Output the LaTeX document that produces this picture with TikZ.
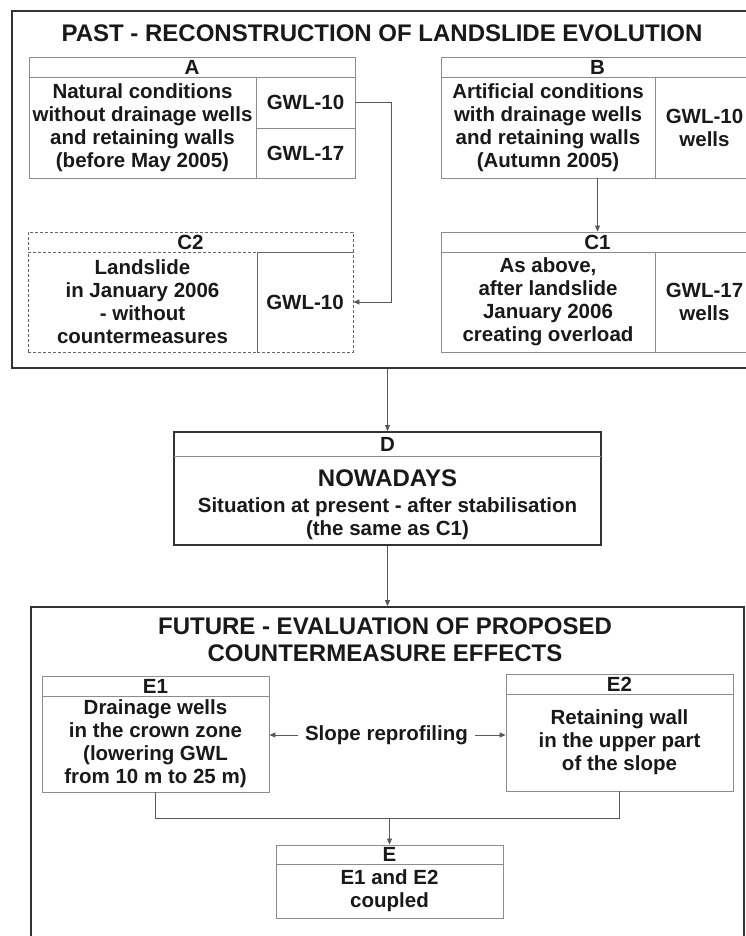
\documentclass[tikz,border=0pt]{standalone}
\usepackage{fontspec}
\setmainfont{Liberation Sans}
\usetikzlibrary{arrows.meta}
\newcommand\cellbox[7]{%
  \node[#1, minimum width={(#5)-(#3)}, minimum height={(#6)-(#4)}] (#2) at ({((#3)+(#5))/2},{((#4)+(#6))/2}) {#7};}
\begin{document}
\begin{tikzpicture}[x=1pt,y=-1pt,
  body/.style={font=\fontsize{20.5}{23}\selectfont\bfseries, text=black!90, align=center},
  ttl/.style={font=\fontsize{24}{27}\selectfont\bfseries, text=black!90, align=center, inner sep=0pt},
  cell/.style={body, draw=black!45, line width=0.9pt, inner sep=0pt, anchor=center},
  dcell/.style={cell, draw=black!60, dash pattern=on 3pt off 2pt},
  outerbox/.style={draw=black!80, line width=1.8pt, inner sep=0pt, anchor=center},
  plain/.style={body, inner sep=0pt, anchor=center},
  conn/.style={draw=black!65, line width=0.8pt},
  arr/.style={conn, -{Triangle[length=6pt,width=5pt]}}
]
\useasboundingbox (0,0) rectangle (746,936);
\fill[white] (0,0) rectangle (746,936);
\clip (0,0) rectangle (746,936);

% ---------- PAST ----------
\cellbox{outerbox}{past}{12}{11}{780}{368}{}
\node[ttl] (pastT) at (382,33.5) {PAST - RECONSTRUCTION OF LANDSLIDE EVOLUTION};

% A
\cellbox{cell}{Ah}{29}{57}{355}{77}{A}
\cellbox{cell}{Al}{29}{77}{256}{178}{Natural conditions\\without drainage wells\\and retaining walls\\(before May 2005)}
\cellbox{cell}{A10}{256}{77}{355}{128}{GWL-10}
\cellbox{cell}{A17}{256}{128}{355}{178}{GWL-17}

% B
\cellbox{cell}{Bh}{441}{57}{754}{77}{B}
\cellbox{cell}{Bl}{441}{77}{655}{178}{Artificial conditions\\with drainage wells\\and retaining walls\\(Autumn 2005)}
\cellbox{cell}{Br}{655}{77}{754}{178}{GWL-10\\wells}

% C2
\cellbox{dcell}{C2h}{28}{232}{353}{252}{C2}
\cellbox{dcell}{C2l}{28}{252}{257}{352}{Landslide\\in January 2006\\- without\\countermeasures}
\cellbox{dcell}{C2r}{257}{252}{353}{352}{GWL-10}

% C1
\cellbox{cell}{C1h}{441}{232}{754}{252}{C1}
\cellbox{cell}{C1l}{441}{252}{655}{352}{As above,\\after landslide\\January 2006\\creating overload}
\cellbox{cell}{C1r}{655}{252}{754}{352}{GWL-17\\wells}

% connectors in PAST
\draw[arr] (A10.east) -- ++(36,0) |- (C2r.east);
\draw[arr] (Bl.south -| Bh.center) -- (C1h.north);

% ---------- D ----------
\cellbox{outerbox}{Dbox}{174}{432}{601}{545}{}
\cellbox{plain}{Dh}{174}{432}{601}{456}{D}
\draw[draw=black!45, line width=0.9pt] (Dh.south west) -- (Dh.south east);
\node[ttl] (Dn) at (387.5,478) {NOWADAYS};
\node[plain] (Ds) at (387.5,518.5) {Situation at present - after stabilisation\\(the same as C1)};

\draw[arr] (Dbox.north |- past.south) -- (Dbox.north);

% ---------- FUTURE ----------
\cellbox{outerbox}{future}{31}{607}{744}{980}{}
\draw[arr] (Dbox.south) -- (Dbox.south |- future.north);
\node[ttl] (futT) at (385,640) {FUTURE - EVALUATION OF PROPOSED\\COUNTERMEASURE EFFECTS};

% E1
\cellbox{cell}{E1h}{42}{676}{269}{696}{E1}
\cellbox{cell}{E1b}{42}{696}{269}{792}{Drainage wells\\in the crown zone\\(lowering GWL\\from 10 m to 25 m)}

% E2
\cellbox{cell}{E2h}{506}{674}{733}{694}{E2}
\cellbox{cell}{E2b}{506}{694}{733}{791}{Retaining wall\\in the upper part\\of the slope}

% slope reprofiling
\node[plain, inner xsep=7pt] (slope) at (386.5,735) {Slope reprofiling};
\draw[arr] (slope.west) -- (E1b.east |- slope.west);
\draw[arr] (slope.east) -- (E2b.west |- slope.east);

% E
\cellbox{cell}{Eh}{276}{845}{503}{864}{E}
\cellbox{cell}{Eb}{276}{864}{503}{918}{E1 and E2\\coupled}

\draw[conn] (E1b.south) -- ++(0,26) coordinate (jl) -| (E2b.south);
\draw[arr] (Eh.north |- jl) -- (Eh.north);
\end{tikzpicture}
\end{document}
